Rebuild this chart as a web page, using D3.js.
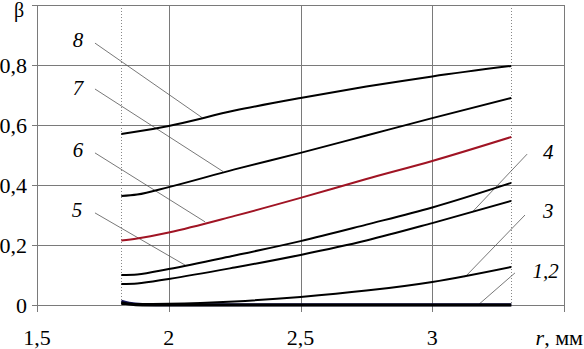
<!DOCTYPE html>
<html><head><meta charset="utf-8">
<script src="https://cdn.jsdelivr.net/npm/d3@7"></script>
</head><body style="margin:0;background:#fff">
<svg id="c" width="584" height="349" style="display:block;font-family:'Liberation Serif'"></svg>
<script>
// ---- data ----
const xTicks = [1.5, 2, 2.5, 3, 3.5];
const xTickLabels = ["1,5", "2", "2,5", "3", ""];
const yTicks = [0, 0.2, 0.4, 0.6, 0.8, 1];
const yTickLabels = ["0", "0,2", "0,4", "0,6", "0,8", ""];
const rangeBounds = [1.82, 3.3];

const r = [1.82, 1.88, 2.0, 2.25, 2.5, 2.75, 3.0, 3.3];
const curve8 = [0.570, 0.578, 0.597, 0.648, 0.690, 0.728, 0.762, 0.797];
const curve7 = [0.363, 0.368, 0.393, 0.452, 0.507, 0.565, 0.623, 0.690];
const curve6 = [0.215, 0.222, 0.242, 0.297, 0.357, 0.420, 0.480, 0.560];
const curve5 = [0.100, 0.102, 0.120, 0.165, 0.213, 0.268, 0.325, 0.407];
const curve4 = [0.070, 0.072, 0.087, 0.125, 0.167, 0.215, 0.273, 0.347];
const curve3 = [0.003, 0.003, 0.004, 0.012, 0.027, 0.048, 0.077, 0.127];
const r12 = [1.82, 1.85, 1.9, 2.0, 2.5, 3.0, 3.3];
const curve1 = [0.013, 0.006, 0.002, 0.001, 0.001, 0.001, 0.001];
const curve2 = [0.008, 0.003, 0.000, 0.000, 0.000, 0.000, 0.000];

const labels = ["8", "7", "6", "5", "4", "3", "1,2"];
const labelPos = [[1.656, 0.86], [1.656, 0.70], [1.656, 0.493], [1.652, 0.293], [3.44, 0.487], [3.44, 0.29], [3.43, 0.09]];
const leaderFrom = [[1.72, 0.873], [1.72, 0.72], [1.72, 0.507], [1.72, 0.307], [3.36, 0.503], [3.352, 0.30], [3.314, 0.107]];
const leaderTo = [[2.126, 0.625], [2.206, 0.445], [2.138, 0.277], [2.062, 0.133], [3.151, 0.309], [3.124, 0.093], [3.174, 0.0]];

// ---- chart ----
const svg = d3.select("#c");
const x = d3.scaleLinear().domain([1.5, 3.5]).range([37, 564]);
const y = d3.scaleLinear().domain([0, 1]).range([305, 5]);
const grid = "#7a7a7a";
const FONT = "Liberation Serif";
const ff = sel => sel.attr("font-family", FONT).style("font-family", '"Liberation Serif"', "important");

svg.append("g").selectAll("line").data(yTicks).join("line")
  .attr("x1", x(1.5) - 5).attr("x2", x(3.5))
  .attr("y1", d => Math.round(y(d)) + 0.5).attr("y2", d => Math.round(y(d)) + 0.5)
  .attr("stroke", grid).attr("stroke-width", 1);
svg.append("g").selectAll("line").data(xTicks).join("line")
  .attr("x1", d => Math.round(x(d)) + 0.5).attr("x2", d => Math.round(x(d)) + 0.5)
  .attr("y1", y(1)).attr("y2", y(0) + 7)
  .attr("stroke", grid).attr("stroke-width", 1);
svg.append("g").selectAll("line").data(rangeBounds).join("line")
  .attr("x1", d => Math.round(x(d)) + 0.5).attr("x2", d => Math.round(x(d)) + 0.5)
  .attr("y1", y(1)).attr("y2", y(0))
  .attr("stroke", "#888").attr("stroke-width", 1).attr("stroke-dasharray", "1,2");

svg.selectAll("text.yt").data(yTicks).join("text").attr("class", "yt")
  .attr("x", 27).attr("y", d => y(d) + 7.5)
  .attr("text-anchor", "end").attr("font-size", 22).call(ff)
  .text((d, i) => yTickLabels[i]);
svg.selectAll("text.xt").data(xTicks).join("text").attr("class", "xt")
  .attr("x", d => x(d)).attr("y", 345)
  .attr("text-anchor", "middle").attr("font-size", 22).call(ff)
  .text((d, i) => xTickLabels[i]);

const xt = svg.append("text").attr("x", 583).attr("y", 345).attr("text-anchor", "end")
  .attr("font-size", 22).call(ff);
xt.append("tspan").attr("font-style", "italic").text("r");
xt.append("tspan").text(", мм");
svg.append("text").attr("x", 14).attr("y", 17).attr("font-size", 20).call(ff).text("β");

svg.append("g").selectAll("line").data(leaderFrom).join("line")
  .attr("x1", d => x(d[0])).attr("y1", d => y(d[1]))
  .attr("x2", (d, i) => x(leaderTo[i][0])).attr("y2", (d, i) => y(leaderTo[i][1]))
  .attr("stroke", "#555").attr("stroke-width", 0.8);

const line = d3.line().x(d => x(d[0])).y(d => y(d[1])).curve(d3.curveMonotoneX);
const series = [
  {xs: r12, ys: curve1, color: "#1a1a60", w: 3},
  {xs: r12, ys: curve2, color: "#000", w: 3},
  {xs: r, ys: curve3, color: "#000", w: 2},
  {xs: r, ys: curve4, color: "#000", w: 2},
  {xs: r, ys: curve5, color: "#000", w: 2},
  {xs: r, ys: curve6, color: "#a01424", w: 2},
  {xs: r, ys: curve7, color: "#000", w: 2},
  {xs: r, ys: curve8, color: "#000", w: 2}
];
svg.append("g").selectAll("path").data(series).join("path")
  .attr("d", s => line(s.xs.map((v, i) => [v, s.ys[i]])))
  .attr("fill", "none").attr("stroke", s => s.color).attr("stroke-width", s => s.w);

svg.selectAll("text.cl").data(labels).join("text").attr("class", "cl")
  .attr("x", (d, i) => x(labelPos[i][0])).attr("y", (d, i) => y(labelPos[i][1]))
  .attr("text-anchor", "middle").attr("font-style", "italic").call(ff)
  .attr("font-size", 21).text(d => d);
</script>
</body></html>
